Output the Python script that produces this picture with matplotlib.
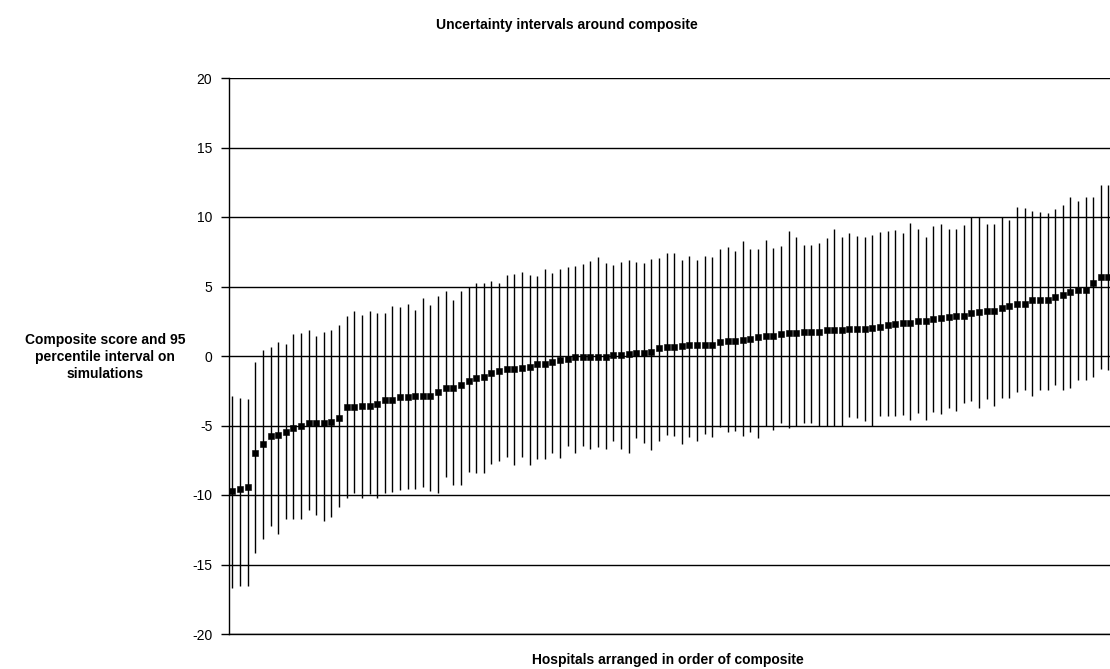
import numpy as np
import matplotlib
matplotlib.use("Agg")
import matplotlib.pyplot as plt

plt.rcParams['font.family'] = ['Liberation Sans', 'DejaVu Sans']

# composite score per hospital, ordered, with 2.5 / 97.5 percentile of simulations
composite = [
    -9.69, -9.57, -9.42, -6.97, -6.32, -5.72, -5.67, -5.48, -5.19, -5.07,
    -4.83, -4.83, -4.83, -4.76, -4.47, -3.70, -3.68, -3.63, -3.63, -3.44,
    -3.20, -3.13, -2.98, -2.98, -2.91, -2.86, -2.86, -2.60, -2.33, -2.28,
    -2.07, -1.83, -1.59, -1.51, -1.23, -1.08, -0.94, -0.94, -0.84, -0.77,
    -0.60, -0.55, -0.43, -0.31, -0.19, -0.07, -0.07, -0.05, -0.05, -0.05,
    0.05, 0.10, 0.12, 0.24, 0.24, 0.31, 0.58, 0.67, 0.67, 0.70,
    0.77, 0.77, 0.77, 0.82, 1.03, 1.06, 1.11, 1.13, 1.23, 1.37,
    1.42, 1.42, 1.59, 1.66, 1.66, 1.71, 1.73, 1.73, 1.85, 1.85,
    1.88, 1.95, 1.95, 1.95, 2.04, 2.09, 2.24, 2.33, 2.36, 2.36,
    2.50, 2.50, 2.69, 2.72, 2.79, 2.86, 2.91, 3.10, 3.17, 3.25,
    3.25, 3.46, 3.63, 3.77, 3.77, 4.06, 4.06, 4.06, 4.21, 4.40,
    4.59, 4.74, 4.78, 5.26, 5.67, 5.70,
]
upper = [
    -2.86, -3.00, -3.08, -0.43, 0.46, 0.65, 1.03, 0.89, 1.56, 1.66,
    1.88, 1.47, 1.71, 1.90, 2.24, 2.91, 3.27, 2.98, 3.22, 3.10,
    3.10, 3.61, 3.49, 3.73, 3.34, 4.16, 3.70, 4.30, 4.66, 4.06,
    4.69, 4.98, 5.26, 5.22, 5.38, 5.22, 5.84, 5.89, 6.06, 5.84,
    5.79, 6.23, 5.94, 6.23, 6.42, 6.51, 6.61, 6.80, 7.12, 6.66,
    6.56, 6.75, 6.90, 6.75, 6.71, 6.95, 7.07, 7.43, 7.38, 6.90,
    7.19, 6.90, 7.16, 7.14, 7.72, 7.81, 7.57, 8.25, 7.67, 7.67,
    8.32, 7.76, 7.91, 8.99, 8.58, 8.00, 8.00, 8.10, 8.46, 9.11,
    8.58, 8.87, 8.63, 8.58, 8.68, 8.92, 8.97, 9.06, 8.82, 9.59,
    9.16, 8.56, 9.35, 9.47, 9.16, 9.16, 9.45, 10.02, 10.02, 9.50,
    9.52, 10.02, 9.78, 10.75, 10.63, 10.41, 10.38, 10.31, 10.60, 10.89,
    11.47, 11.13, 11.47, 11.47, 12.33, 12.33,
]
lower = [
    -16.66, -16.56, -16.56, -14.16, -13.13, -12.24, -12.81, -11.71, -11.71, -11.71,
    -11.08, -11.47, -11.90, -11.61, -10.84, -10.19, -9.88, -10.24, -9.93, -10.19,
    -9.88, -9.81, -9.64, -9.59, -9.59, -9.40, -9.69, -9.83, -8.73, -9.28,
    -9.28, -8.37, -8.39, -8.44, -7.76, -7.52, -7.28, -7.84, -7.24, -7.84,
    -7.38, -7.38, -6.95, -7.36, -6.51, -6.95, -6.47, -6.71, -6.56, -6.71,
    -6.08, -6.71, -7.00, -5.91, -6.23, -6.75, -6.08, -5.67, -5.75, -6.32,
    -5.84, -6.15, -5.60, -5.84, -5.12, -5.50, -5.38, -5.79, -5.50, -5.87,
    -5.00, -5.31, -4.83, -5.19, -5.00, -4.83, -4.83, -5.07, -5.00, -5.00,
    -5.07, -4.40, -4.47, -4.71, -5.00, -4.30, -4.30, -4.30, -4.23, -4.59,
    -4.11, -4.64, -4.04, -4.16, -3.73, -3.99, -3.39, -3.22, -3.77, -3.10,
    -3.58, -3.05, -3.05, -2.62, -2.48, -2.86, -2.48, -2.48, -2.07, -2.48,
    -2.33, -1.71, -1.71, -1.51, -0.94, -0.99,
]
y_ticks = [-20, -15, -10, -5, 0, 5, 10, 15, 20]

x = np.arange(len(composite))

fig = plt.figure(figsize=(11.1, 6.69), dpi=100)
ax = fig.add_axes([229 / 1110, 35 / 669, 1 - 229 / 1110, 556 / 669])

ax.vlines(x, lower, upper, colors='black', linewidth=1.0, zorder=2)
ax.plot(x, composite, linestyle='none', marker='s', markersize=4.2,
        markeredgewidth=0.4, color='black', zorder=3)

ax.set_ylim(-20, 20)
ax.set_xlim(-0.45, 115.2)
ax.set_yticks(y_ticks)
ax.set_yticklabels([str(t) for t in y_ticks], fontsize=10)
ax.yaxis.grid(True, color='black', linewidth=1.0)
ax.set_axisbelow(True)
ax.set_xticks([])
ax.tick_params(axis='y', direction='out', length=6, width=1, pad=6)
for side in ['top', 'right']:
    ax.spines[side].set_visible(False)
ax.spines['left'].set_linewidth(1.0)
ax.spines['bottom'].set_linewidth(1.0)

fig.text(567 / 1110, 1 - 25 / 669, 'Uncertainty intervals around composite',
         ha='center', va='center', fontsize=10, fontweight='bold')
fig.text(668 / 1110, 1 - 660 / 669, 'Hospitals arranged in order of composite',
         ha='center', va='center', fontsize=10, fontweight='bold')
fig.text(105 / 1110, 1 - 357 / 669,
         'Composite score and 95\npercentile interval on\nsimulations',
         ha='center', va='center', fontsize=10, fontweight='bold',
         linespacing=1.3)

fig.savefig('out.png', dpi=100)
